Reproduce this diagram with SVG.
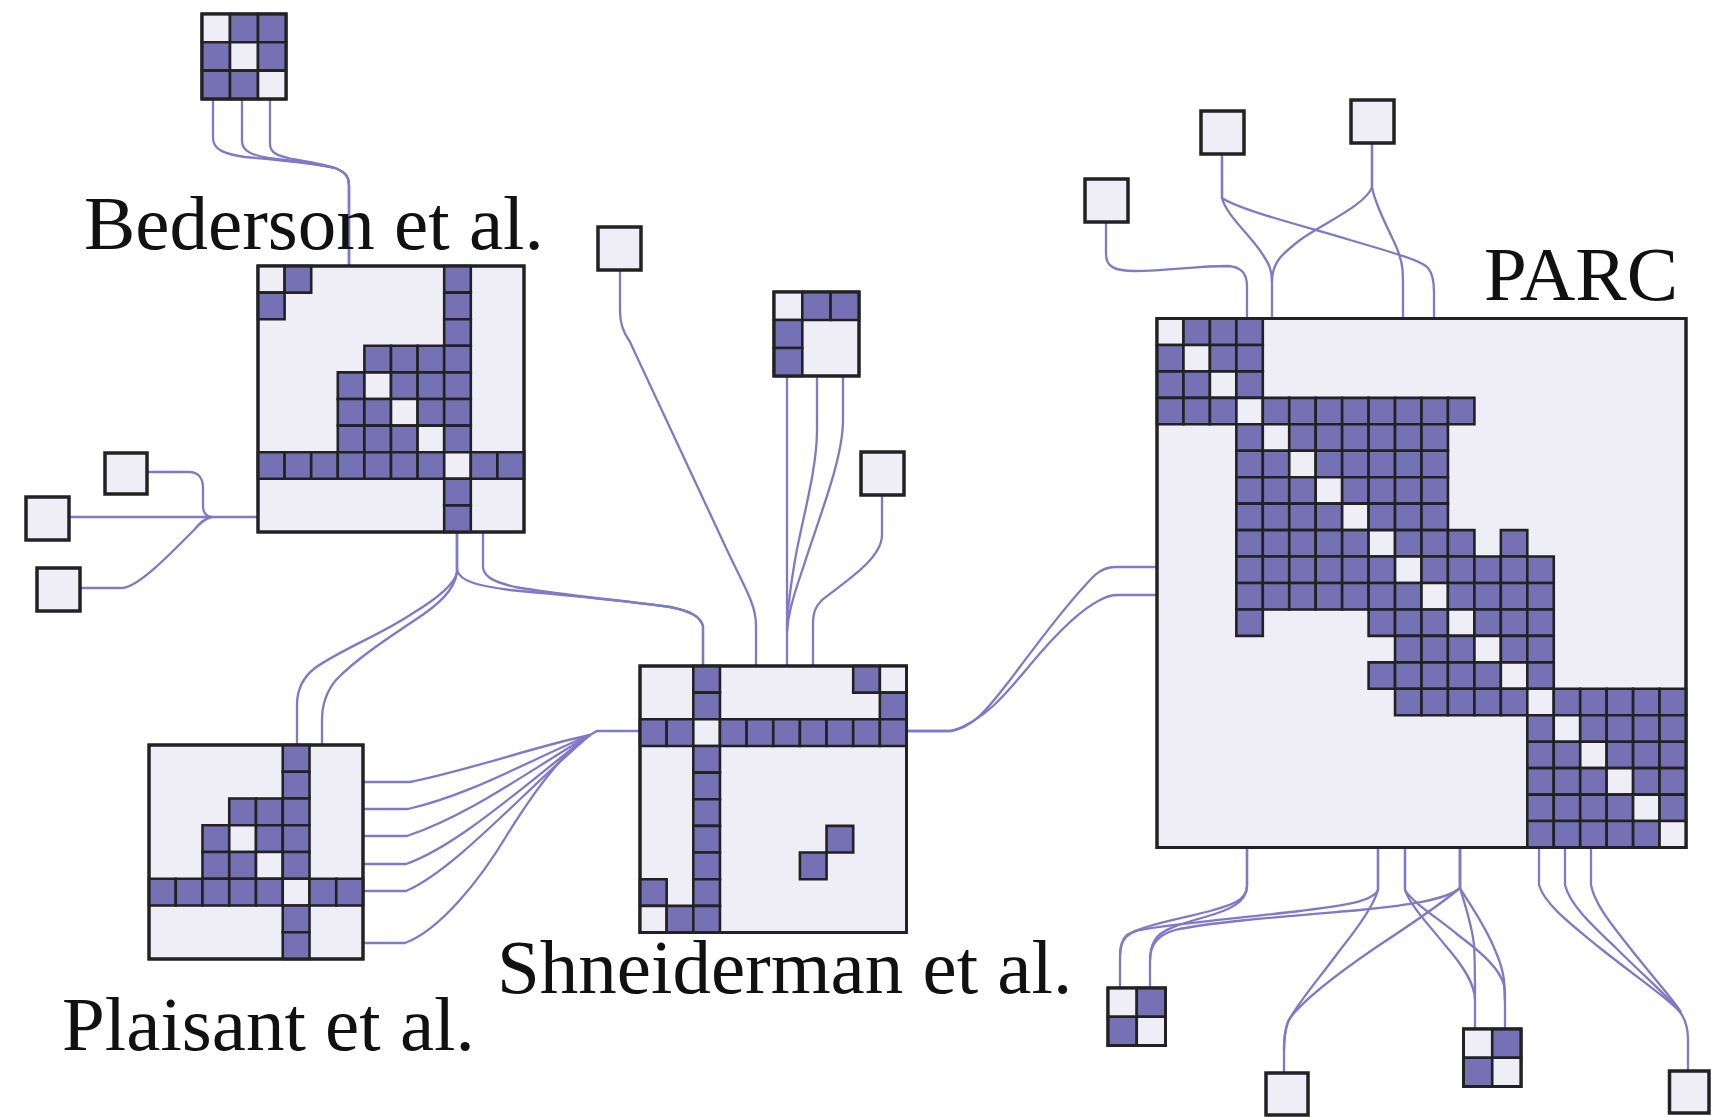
<svg xmlns="http://www.w3.org/2000/svg" width="1711" height="1117" viewBox="0 0 1711 1117">
<style>
.bg{fill:#EFEEF7;stroke:#222;stroke-width:3;vector-effect:non-scaling-stroke}
.fr{fill:none;stroke:#222;stroke-width:3;vector-effect:non-scaling-stroke}
.p{fill:#7670B4;stroke:#222;stroke-width:2.6;vector-effect:non-scaling-stroke}
.l{fill:#EFEEF7;stroke:#222;stroke-width:2.6;vector-effect:non-scaling-stroke}
.e{fill:none;stroke:#7F79C6;stroke-width:2.3}
.n{fill:#EFEEF7;stroke:#222;stroke-width:3.5}
.t{font-family:"Liberation Serif","Times New Roman",serif;font-size:77px;fill:#111}
</style>
<rect width="1711" height="1117" fill="#fff"/>
<g id="connectors">
<path class="e" d="M213,99 V138 C213,150 225,154 245,157 C280,160 318,164 335,168 C345,172 349,176 349,186 V266"/>
<path class="e" d="M242,99 V141 C242,151 252,155 268,158 C295,161 320,164 335,168 C345,172 349,176 349,186 V266"/>
<path class="e" d="M270,99 V144 C270,153 278,156 292,159 C310,162 325,165 335,168 C345,172 349,176 349,186 V266"/>
<path class="e" d="M147,472 H189 C198,472 203,478 203,488 V506 C203,512 206,516 211,517"/>
<path class="e" d="M69,517 H258"/>
<path class="e" d="M80,588 H123 C140,586 172,552 194,530 C200,523 205,518 212,517"/>
<path class="e" d="M457,532 V572 C455,585 435,600 410,615 C380,635 340,650 315,668 C302,678 297,690 297,705 V745"/>
<path class="e" d="M457,532 V572 C455,590 438,605 415,620 C385,640 355,660 336,680 C326,692 322,705 322,720 V745"/>
<path class="e" d="M457,532 V570 C460,582 480,586 510,590 C560,595 620,600 670,607 C690,611 700,616 703,626 V666"/>
<path class="e" d="M483,532 V568 C485,578 495,582 515,587 C560,595 620,600 670,607 C690,611 700,616 703,626 V666"/>
<path class="e" d="M363,782 H410 C470,770 540,745 590,735 L597,731 H640"/>
<path class="e" d="M363,809 H408 C470,795 530,760 590,735"/>
<path class="e" d="M363,836 H407 C470,815 530,770 590,735"/>
<path class="e" d="M363,864 H406 C460,845 530,780 590,735"/>
<path class="e" d="M363,891 H406 C455,870 525,790 590,735"/>
<path class="e" d="M363,943 H405 C440,930 480,880 507,835 C535,790 565,750 590,735"/>
<path class="e" d="M620,270 V312 C620,325 625,335 630,342 L727,550 C745,588 756,605 756,625 V666"/>
<path class="e" d="M787,376 V666"/>
<path class="e" d="M817,376 V430 C817,470 802,520 795,560 C790,590 787,610 787,630"/>
<path class="e" d="M843,376 V420 C843,460 818,520 803,568 C792,600 788,615 787,632"/>
<path class="e" d="M882,495 V535 C882,560 840,585 822,600 C815,607 813,613 813,625 V666"/>
<path class="e" d="M907,731 H950 C975,728 990,705 1010,680 C1040,640 1070,600 1095,575 C1102,569 1108,567 1115,567 H1157"/>
<path class="e" d="M907,731 H952 C985,720 1005,695 1030,665 C1055,635 1080,610 1100,600 C1107,596 1112,595 1118,595 H1157"/>
<path class="e" d="M1106,222 V254 C1106,267 1115,271 1135,271 C1170,271 1195,266 1228,266 C1242,267 1247,274 1247,286 V318"/>
<path class="e" d="M1222,154 V198 C1226,215 1252,237 1263,255 C1269,264 1272,270 1272,282 V318"/>
<path class="e" d="M1222,154 V198 C1240,210 1300,225 1350,240 C1398,254 1422,261 1428,268 C1433,274 1434,282 1434,292 V318"/>
<path class="e" d="M1372,143 V187 C1366,205 1322,224 1300,240 C1282,254 1272,262 1272,282"/>
<path class="e" d="M1372,143 V187 C1376,210 1394,238 1399,254 C1403,265 1403,272 1403,292 V318"/>
<path class="e" d="M1247,847 V886 C1247,900 1232,905 1210,911 C1180,919 1140,926 1127,935 C1121,940 1120,948 1120,958 V988"/>
<path class="e" d="M1247,847 V886 C1247,902 1230,910 1205,917 C1180,924 1160,930 1155,940 C1151,946 1150,952 1150,962 V988"/>
<path class="e" d="M1378,847 V890 C1372,902 1345,905 1300,911 C1240,918 1170,924 1140,930 C1125,934 1120,942 1120,955"/>
<path class="e" d="M1460,847 V888 C1445,900 1410,905 1360,910 C1290,916 1210,922 1175,930 C1157,935 1150,945 1150,960"/>
<path class="e" d="M1378,847 V890 C1374,905 1360,925 1340,950 C1318,980 1296,1005 1288,1022 C1285,1030 1284,1040 1284,1050 V1073"/>
<path class="e" d="M1460,847 V888 C1440,905 1410,925 1375,948 C1340,972 1305,998 1290,1018 C1285,1026 1284,1036 1284,1050"/>
<path class="e" d="M1405,847 V890 C1410,905 1428,924 1445,945 C1465,968 1475,985 1475,1000 V1029"/>
<path class="e" d="M1405,847 V890 C1414,904 1438,918 1458,935 C1485,955 1500,970 1504,985 C1505,992 1505,1000 1505,1010 V1029"/>
<path class="e" d="M1460,847 V888 C1465,905 1472,925 1474,945 C1475,960 1475,975 1475,1000"/>
<path class="e" d="M1460,847 V888 C1470,905 1485,925 1495,950 C1503,968 1505,980 1505,1000"/>
<path class="e" d="M1539,847 V885 C1545,905 1572,925 1600,948 C1640,980 1668,998 1680,1012 C1686,1020 1688,1028 1688,1040 V1071"/>
<path class="e" d="M1565,847 V885 C1570,905 1592,925 1616,948 C1646,978 1670,998 1680,1012"/>
<path class="e" d="M1591,847 V885 C1595,905 1612,925 1630,948 C1652,976 1672,998 1681,1012"/>
</g>
<g id="top3">
<rect class="bg" x="202" y="14" width="84" height="85"/>
<g transform="translate(202,14) scale(28,28.3)">
<rect class="l" x="0" y="0" width="1" height="1"/><rect class="p" x="1" y="0" width="1" height="1"/><rect class="p" x="2" y="0" width="1" height="1"/>
<rect class="p" x="0" y="1" width="1" height="1"/><rect class="l" x="1" y="1" width="1" height="1"/><rect class="p" x="2" y="1" width="1" height="1"/>
<rect class="p" x="0" y="2" width="1" height="1"/><rect class="p" x="1" y="2" width="1" height="1"/><rect class="l" x="2" y="2" width="1" height="1"/>
</g>
<rect class="fr" x="202" y="14" width="84" height="85"/>
</g>
<g id="bederson">
<rect class="bg" x="258" y="266" width="266" height="266"/>
<g transform="translate(258,266) scale(26.6)">
<rect class="l" x="0" y="0" width="1" height="1"/><rect class="p" x="1" y="0" width="1" height="1"/><rect class="p" x="7" y="0" width="1" height="1"/>
<rect class="p" x="0" y="1" width="1" height="1"/><rect class="p" x="7" y="1" width="1" height="1"/>
<rect class="p" x="7" y="2" width="1" height="1"/>
<rect class="p" x="4" y="3" width="1" height="1"/><rect class="p" x="5" y="3" width="1" height="1"/><rect class="p" x="6" y="3" width="1" height="1"/><rect class="p" x="7" y="3" width="1" height="1"/>
<rect class="p" x="3" y="4" width="1" height="1"/><rect class="l" x="4" y="4" width="1" height="1"/><rect class="p" x="5" y="4" width="1" height="1"/><rect class="p" x="6" y="4" width="1" height="1"/><rect class="p" x="7" y="4" width="1" height="1"/>
<rect class="p" x="3" y="5" width="1" height="1"/><rect class="p" x="4" y="5" width="1" height="1"/><rect class="l" x="5" y="5" width="1" height="1"/><rect class="p" x="6" y="5" width="1" height="1"/><rect class="p" x="7" y="5" width="1" height="1"/>
<rect class="p" x="3" y="6" width="1" height="1"/><rect class="p" x="4" y="6" width="1" height="1"/><rect class="p" x="5" y="6" width="1" height="1"/><rect class="l" x="6" y="6" width="1" height="1"/><rect class="p" x="7" y="6" width="1" height="1"/>
<rect class="p" x="0" y="7" width="1" height="1"/><rect class="p" x="1" y="7" width="1" height="1"/><rect class="p" x="2" y="7" width="1" height="1"/><rect class="p" x="3" y="7" width="1" height="1"/><rect class="p" x="4" y="7" width="1" height="1"/><rect class="p" x="5" y="7" width="1" height="1"/><rect class="p" x="6" y="7" width="1" height="1"/><rect class="l" x="7" y="7" width="1" height="1"/><rect class="p" x="8" y="7" width="1" height="1"/><rect class="p" x="9" y="7" width="1" height="1"/>
<rect class="p" x="7" y="8" width="1" height="1"/>
<rect class="p" x="7" y="9" width="1" height="1"/>
</g>
<rect class="fr" x="258" y="266" width="266" height="266"/>
</g>
<g id="plaisant">
<rect class="bg" x="149" y="745" width="214" height="214"/>
<g transform="translate(149,745) scale(26.75)">
<rect class="p" x="5" y="0" width="1" height="1"/>
<rect class="p" x="5" y="1" width="1" height="1"/>
<rect class="p" x="3" y="2" width="1" height="1"/><rect class="p" x="4" y="2" width="1" height="1"/><rect class="p" x="5" y="2" width="1" height="1"/>
<rect class="p" x="2" y="3" width="1" height="1"/><rect class="l" x="3" y="3" width="1" height="1"/><rect class="p" x="4" y="3" width="1" height="1"/><rect class="p" x="5" y="3" width="1" height="1"/>
<rect class="p" x="2" y="4" width="1" height="1"/><rect class="p" x="3" y="4" width="1" height="1"/><rect class="l" x="4" y="4" width="1" height="1"/><rect class="p" x="5" y="4" width="1" height="1"/>
<rect class="p" x="0" y="5" width="1" height="1"/><rect class="p" x="1" y="5" width="1" height="1"/><rect class="p" x="2" y="5" width="1" height="1"/><rect class="p" x="3" y="5" width="1" height="1"/><rect class="p" x="4" y="5" width="1" height="1"/><rect class="l" x="5" y="5" width="1" height="1"/><rect class="p" x="6" y="5" width="1" height="1"/><rect class="p" x="7" y="5" width="1" height="1"/>
<rect class="p" x="5" y="6" width="1" height="1"/>
<rect class="p" x="5" y="7" width="1" height="1"/>
</g>
<rect class="fr" x="149" y="745" width="214" height="214"/>
</g>
<g id="shneiderman">
<rect class="bg" x="640" y="666" width="266.5" height="266.5"/>
<g transform="translate(640,666) scale(26.65)">
<rect class="p" x="2" y="0" width="1" height="1"/><rect class="p" x="8" y="0" width="1" height="1"/><rect class="l" x="9" y="0" width="1" height="1"/>
<rect class="p" x="2" y="1" width="1" height="1"/><rect class="p" x="9" y="1" width="1" height="1"/>
<rect class="p" x="0" y="2" width="1" height="1"/><rect class="p" x="1" y="2" width="1" height="1"/><rect class="l" x="2" y="2" width="1" height="1"/><rect class="p" x="3" y="2" width="1" height="1"/><rect class="p" x="4" y="2" width="1" height="1"/><rect class="p" x="5" y="2" width="1" height="1"/><rect class="p" x="6" y="2" width="1" height="1"/><rect class="p" x="7" y="2" width="1" height="1"/><rect class="p" x="8" y="2" width="1" height="1"/><rect class="p" x="9" y="2" width="1" height="1"/>
<rect class="p" x="2" y="3" width="1" height="1"/>
<rect class="p" x="2" y="4" width="1" height="1"/>
<rect class="p" x="2" y="5" width="1" height="1"/>
<rect class="p" x="2" y="6" width="1" height="1"/><rect class="p" x="7" y="6" width="1" height="1"/>
<rect class="p" x="2" y="7" width="1" height="1"/><rect class="p" x="6" y="7" width="1" height="1"/>
<rect class="p" x="0" y="8" width="1" height="1"/><rect class="p" x="2" y="8" width="1" height="1"/>
<rect class="l" x="0" y="9" width="1" height="1"/><rect class="p" x="1" y="9" width="1" height="1"/><rect class="p" x="2" y="9" width="1" height="1"/>
</g>
<rect class="fr" x="640" y="666" width="266.5" height="266.5"/>
</g>
<g id="small3">
<rect class="bg" x="774" y="292" width="85" height="84"/>
<g transform="translate(774,292) scale(28.3,28)">
<rect class="l" x="0" y="0" width="1" height="1"/><rect class="p" x="1" y="0" width="1" height="1"/><rect class="p" x="2" y="0" width="1" height="1"/>
<rect class="p" x="0" y="1" width="1" height="1"/>
<rect class="p" x="0" y="2" width="1" height="1"/>
</g>
<rect class="fr" x="774" y="292" width="85" height="84"/>
</g>
<g id="parc">
<rect class="bg" x="1157" y="318.5" width="529" height="529"/>
<g transform="translate(1157,318.5) scale(26.45)">
<rect class="l" x="0" y="0" width="1" height="1"/><rect class="p" x="1" y="0" width="1" height="1"/><rect class="p" x="2" y="0" width="1" height="1"/><rect class="p" x="3" y="0" width="1" height="1"/>
<rect class="p" x="0" y="1" width="1" height="1"/><rect class="l" x="1" y="1" width="1" height="1"/><rect class="p" x="2" y="1" width="1" height="1"/><rect class="p" x="3" y="1" width="1" height="1"/>
<rect class="p" x="0" y="2" width="1" height="1"/><rect class="p" x="1" y="2" width="1" height="1"/><rect class="l" x="2" y="2" width="1" height="1"/><rect class="p" x="3" y="2" width="1" height="1"/>
<rect class="p" x="0" y="3" width="1" height="1"/><rect class="p" x="1" y="3" width="1" height="1"/><rect class="p" x="2" y="3" width="1" height="1"/><rect class="l" x="3" y="3" width="1" height="1"/><rect class="p" x="4" y="3" width="1" height="1"/><rect class="p" x="5" y="3" width="1" height="1"/><rect class="p" x="6" y="3" width="1" height="1"/><rect class="p" x="7" y="3" width="1" height="1"/><rect class="p" x="8" y="3" width="1" height="1"/><rect class="p" x="9" y="3" width="1" height="1"/><rect class="p" x="10" y="3" width="1" height="1"/><rect class="p" x="11" y="3" width="1" height="1"/>
<rect class="p" x="3" y="4" width="1" height="1"/><rect class="l" x="4" y="4" width="1" height="1"/><rect class="p" x="5" y="4" width="1" height="1"/><rect class="p" x="6" y="4" width="1" height="1"/><rect class="p" x="7" y="4" width="1" height="1"/><rect class="p" x="8" y="4" width="1" height="1"/><rect class="p" x="9" y="4" width="1" height="1"/><rect class="p" x="10" y="4" width="1" height="1"/>
<rect class="p" x="3" y="5" width="1" height="1"/><rect class="p" x="4" y="5" width="1" height="1"/><rect class="l" x="5" y="5" width="1" height="1"/><rect class="p" x="6" y="5" width="1" height="1"/><rect class="p" x="7" y="5" width="1" height="1"/><rect class="p" x="8" y="5" width="1" height="1"/><rect class="p" x="9" y="5" width="1" height="1"/><rect class="p" x="10" y="5" width="1" height="1"/>
<rect class="p" x="3" y="6" width="1" height="1"/><rect class="p" x="4" y="6" width="1" height="1"/><rect class="p" x="5" y="6" width="1" height="1"/><rect class="l" x="6" y="6" width="1" height="1"/><rect class="p" x="7" y="6" width="1" height="1"/><rect class="p" x="8" y="6" width="1" height="1"/><rect class="p" x="9" y="6" width="1" height="1"/><rect class="p" x="10" y="6" width="1" height="1"/>
<rect class="p" x="3" y="7" width="1" height="1"/><rect class="p" x="4" y="7" width="1" height="1"/><rect class="p" x="5" y="7" width="1" height="1"/><rect class="p" x="6" y="7" width="1" height="1"/><rect class="l" x="7" y="7" width="1" height="1"/><rect class="p" x="8" y="7" width="1" height="1"/><rect class="p" x="9" y="7" width="1" height="1"/><rect class="p" x="10" y="7" width="1" height="1"/>
<rect class="p" x="3" y="8" width="1" height="1"/><rect class="p" x="4" y="8" width="1" height="1"/><rect class="p" x="5" y="8" width="1" height="1"/><rect class="p" x="6" y="8" width="1" height="1"/><rect class="p" x="7" y="8" width="1" height="1"/><rect class="l" x="8" y="8" width="1" height="1"/><rect class="p" x="9" y="8" width="1" height="1"/><rect class="p" x="10" y="8" width="1" height="1"/><rect class="p" x="11" y="8" width="1" height="1"/><rect class="p" x="13" y="8" width="1" height="1"/>
<rect class="p" x="3" y="9" width="1" height="1"/><rect class="p" x="4" y="9" width="1" height="1"/><rect class="p" x="5" y="9" width="1" height="1"/><rect class="p" x="6" y="9" width="1" height="1"/><rect class="p" x="7" y="9" width="1" height="1"/><rect class="p" x="8" y="9" width="1" height="1"/><rect class="l" x="9" y="9" width="1" height="1"/><rect class="p" x="10" y="9" width="1" height="1"/><rect class="p" x="11" y="9" width="1" height="1"/><rect class="p" x="12" y="9" width="1" height="1"/><rect class="p" x="13" y="9" width="1" height="1"/><rect class="p" x="14" y="9" width="1" height="1"/>
<rect class="p" x="3" y="10" width="1" height="1"/><rect class="p" x="4" y="10" width="1" height="1"/><rect class="p" x="5" y="10" width="1" height="1"/><rect class="p" x="6" y="10" width="1" height="1"/><rect class="p" x="7" y="10" width="1" height="1"/><rect class="p" x="8" y="10" width="1" height="1"/><rect class="p" x="9" y="10" width="1" height="1"/><rect class="l" x="10" y="10" width="1" height="1"/><rect class="p" x="11" y="10" width="1" height="1"/><rect class="p" x="12" y="10" width="1" height="1"/><rect class="p" x="13" y="10" width="1" height="1"/><rect class="p" x="14" y="10" width="1" height="1"/>
<rect class="p" x="3" y="11" width="1" height="1"/><rect class="p" x="8" y="11" width="1" height="1"/><rect class="p" x="9" y="11" width="1" height="1"/><rect class="p" x="10" y="11" width="1" height="1"/><rect class="l" x="11" y="11" width="1" height="1"/><rect class="p" x="12" y="11" width="1" height="1"/><rect class="p" x="13" y="11" width="1" height="1"/><rect class="p" x="14" y="11" width="1" height="1"/>
<rect class="p" x="9" y="12" width="1" height="1"/><rect class="p" x="10" y="12" width="1" height="1"/><rect class="p" x="11" y="12" width="1" height="1"/><rect class="l" x="12" y="12" width="1" height="1"/><rect class="p" x="13" y="12" width="1" height="1"/><rect class="p" x="14" y="12" width="1" height="1"/>
<rect class="p" x="8" y="13" width="1" height="1"/><rect class="p" x="9" y="13" width="1" height="1"/><rect class="p" x="10" y="13" width="1" height="1"/><rect class="p" x="11" y="13" width="1" height="1"/><rect class="p" x="12" y="13" width="1" height="1"/><rect class="l" x="13" y="13" width="1" height="1"/><rect class="p" x="14" y="13" width="1" height="1"/>
<rect class="p" x="9" y="14" width="1" height="1"/><rect class="p" x="10" y="14" width="1" height="1"/><rect class="p" x="11" y="14" width="1" height="1"/><rect class="p" x="12" y="14" width="1" height="1"/><rect class="p" x="13" y="14" width="1" height="1"/><rect class="l" x="14" y="14" width="1" height="1"/><rect class="p" x="15" y="14" width="1" height="1"/><rect class="p" x="16" y="14" width="1" height="1"/><rect class="p" x="17" y="14" width="1" height="1"/><rect class="p" x="18" y="14" width="1" height="1"/><rect class="p" x="19" y="14" width="1" height="1"/>
<rect class="p" x="14" y="15" width="1" height="1"/><rect class="l" x="15" y="15" width="1" height="1"/><rect class="p" x="16" y="15" width="1" height="1"/><rect class="p" x="17" y="15" width="1" height="1"/><rect class="p" x="18" y="15" width="1" height="1"/><rect class="p" x="19" y="15" width="1" height="1"/>
<rect class="p" x="14" y="16" width="1" height="1"/><rect class="p" x="15" y="16" width="1" height="1"/><rect class="l" x="16" y="16" width="1" height="1"/><rect class="p" x="17" y="16" width="1" height="1"/><rect class="p" x="18" y="16" width="1" height="1"/><rect class="p" x="19" y="16" width="1" height="1"/>
<rect class="p" x="14" y="17" width="1" height="1"/><rect class="p" x="15" y="17" width="1" height="1"/><rect class="p" x="16" y="17" width="1" height="1"/><rect class="l" x="17" y="17" width="1" height="1"/><rect class="p" x="18" y="17" width="1" height="1"/><rect class="p" x="19" y="17" width="1" height="1"/>
<rect class="p" x="14" y="18" width="1" height="1"/><rect class="p" x="15" y="18" width="1" height="1"/><rect class="p" x="16" y="18" width="1" height="1"/><rect class="p" x="17" y="18" width="1" height="1"/><rect class="l" x="18" y="18" width="1" height="1"/><rect class="p" x="19" y="18" width="1" height="1"/>
<rect class="p" x="14" y="19" width="1" height="1"/><rect class="p" x="15" y="19" width="1" height="1"/><rect class="p" x="16" y="19" width="1" height="1"/><rect class="p" x="17" y="19" width="1" height="1"/><rect class="p" x="18" y="19" width="1" height="1"/><rect class="l" x="19" y="19" width="1" height="1"/>
</g>
<rect class="fr" x="1157" y="318.5" width="529" height="529"/>
</g>
<g id="pair-left">
<rect class="bg" x="1108" y="988" width="57.5" height="57.5"/>
<g transform="translate(1108,988) scale(28.75)">
<rect class="l" x="0" y="0" width="1" height="1"/><rect class="p" x="1" y="0" width="1" height="1"/>
<rect class="p" x="0" y="1" width="1" height="1"/><rect class="l" x="1" y="1" width="1" height="1"/>
</g>
<rect class="fr" x="1108" y="988" width="57.5" height="57.5"/>
</g>
<g id="pair-right">
<rect class="bg" x="1463.5" y="1029" width="57.5" height="57.5"/>
<g transform="translate(1463.5,1029) scale(28.75)">
<rect class="l" x="0" y="0" width="1" height="1"/><rect class="p" x="1" y="0" width="1" height="1"/>
<rect class="p" x="0" y="1" width="1" height="1"/><rect class="l" x="1" y="1" width="1" height="1"/>
</g>
<rect class="fr" x="1463.5" y="1029" width="57.5" height="57.5"/>
</g>
<g id="n1"><rect class="n" x="598" y="227" width="43" height="43"/></g>
<g id="n2"><rect class="n" x="105" y="453" width="42" height="41"/></g>
<g id="n3"><rect class="n" x="26" y="497" width="43" height="43"/></g>
<g id="n4"><rect class="n" x="37" y="568" width="43" height="43"/></g>
<g id="n5"><rect class="n" x="861" y="452" width="43" height="43"/></g>
<g id="n6"><rect class="n" x="1085" y="179" width="43" height="43"/></g>
<g id="n7"><rect class="n" x="1201" y="111" width="43" height="43"/></g>
<g id="n8"><rect class="n" x="1351" y="100" width="43" height="43"/></g>
<g id="n9"><rect class="n" x="1266" y="1073" width="42" height="42"/></g>
<g id="n10"><rect class="n" x="1669.5" y="1071" width="39.5" height="42"/></g>
<g id="labels">
<text class="t" x="84" y="249">Bederson et al.</text>
<text class="t" x="1484" y="300">PARC</text>
<text class="t" x="497" y="993">Shneiderman et al.</text>
<text class="t" x="62" y="1050">Plaisant et al.</text>
</g>
</svg>
